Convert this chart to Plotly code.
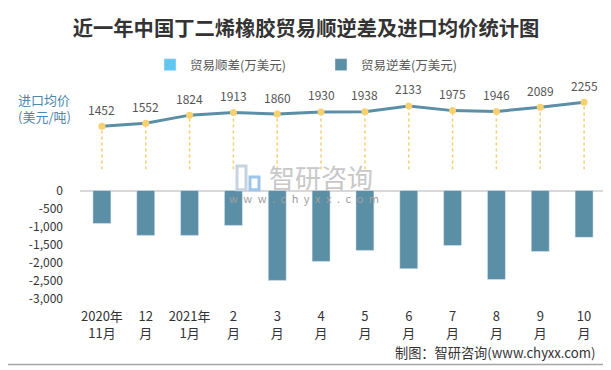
import plotly.graph_objects as go

# ---------------- data ----------------
categories = ["2020年<br>11月", "12<br>月", "2021年<br>1月", "2<br>月", "3<br>月", "4<br>月",
              "5<br>月", "6<br>月", "7<br>月", "8<br>月", "9<br>月", "10<br>月"]
trade_surplus = [None] * 12
trade_deficit = [-910, -1240, -1240, -965, -2485, -1960, -1655, -2160, -1520, -2460, -1685, -1295]
import_price = [1452, 1552, 1824, 1913, 1860, 1930, 1938, 2133, 1975, 1946, 2089, 2255]
bar_tickvals = [0, -500, -1000, -1500, -2000, -2500, -3000]
bar_ticktext = ["0", "-500", "-1,000", "-1,500", "-2,000", "-2,500", "-3,000"]

FONT = "Noto Sans CJK SC"
OFF = 8  # page body margin offset

# plot area in reference pixel coordinates
PL, PR, PT, PB = 80, 606, 95, 299.3
PW, PH = PR - PL, PB - PT


def px(x):
    return (x - PL) / PW


def py(y):
    return (PB - y) / PH


fig = go.Figure()

fig.add_trace(go.Bar(x=categories, y=trade_surplus, name="贸易顺差(万美元)",
                     marker_color="#62C7F0", width=0.41, yaxis="y"))
fig.add_trace(go.Bar(x=categories, y=trade_deficit, name="贸易逆差(万美元)",
                     marker_color="#5B8FA6", width=0.41, yaxis="y"))

# dotted drop lines from price points
dx, dy = [], []
for c, v in zip(categories, import_price):
    dx += [c, c, None]
    dy += [0, v, None]
fig.add_trace(go.Scatter(x=dx, y=dy, mode="lines", yaxis="y2", showlegend=False,
                         line=dict(color="#F5CF72", width=1.5, dash="dot"), hoverinfo="skip"))

fig.add_trace(go.Scatter(x=categories, y=import_price, mode="lines+markers", yaxis="y2",
                         showlegend=False,
                         line=dict(color="#5B8FA6", width=3),
                         marker=dict(color="#F7D06F", size=7)))

for c, v in zip(categories, import_price):
    fig.add_annotation(x=c, y=v, xref="x", yref="y2", text=str(v), showarrow=False,
                       yshift=17, font=dict(size=12, color="#555555", family=FONT))

W, H = 611 - OFF, 370 - OFF
fig.update_layout(
    width=W, height=H,
    margin=dict(l=PL - OFF, r=W - (PR - OFF), t=PT - OFF, b=H - (PB - OFF), autoexpand=False),
    paper_bgcolor="white", plot_bgcolor="white",
    font=dict(family=FONT, color="#333333", size=12),
    title=dict(text="<b>近一年中国丁二烯橡胶贸易顺逆差及进口均价统计图</b>",
               x=(306 - OFF) / W, xanchor="center", xref="container",
               y=1 - (29 - OFF) / H, yanchor="middle", yref="container",
               font=dict(size=20.3, color="#333333", family=FONT)),
    legend=dict(orientation="h", x=px(150), xanchor="left", y=py(65), yanchor="middle",
                font=dict(size=12.5, color="#595959", family=FONT), bgcolor="rgba(0,0,0,0)",
                itemwidth=30, entrywidth=126, entrywidthmode="pixels"),
    barmode="overlay",
    xaxis=dict(type="category", range=[-0.5, len(categories) - 0.5], autorange=False,
               showgrid=False, showline=False, zeroline=False,
               ticks="", tickfont=dict(size=13, color="#333333"), anchor="y",
               ticklabelstandoff=8),
    yaxis=dict(domain=[0, py(190.7)], range=[-3000, 0], tickvals=bar_tickvals, ticktext=bar_ticktext,
               showgrid=False, zeroline=True, zerolinecolor="#D9D9D9", zerolinewidth=1.5,
               showline=False, ticks="", tickfont=dict(size=12, color="#333333"),
               ticklabelstandoff=16),
    yaxis2=dict(domain=[py(169.7), 1], range=[0, (169.7 - PT) / 0.0299], visible=False, anchor="x"),
    showlegend=True,
)

# border of the picture
fig.add_shape(type="rect", xref="paper", yref="paper",
              x0=px(3.5), x1=px(607), y0=py(365), y1=py(3.5),
              line=dict(color="#A6A6A6", width=1.5), layer="below")

# left axis caption for price
fig.add_annotation(text="进口均价<br>(美元/吨)", xref="paper", yref="paper",
                   x=px(16), xanchor="left", y=py(108), yanchor="middle",
                   showarrow=False, align="left",
                   font=dict(size=13, color="#4E86AC", family=FONT))

# watermark
fig.add_annotation(text="智研咨询", xref="paper", yref="paper",
                   x=px(321), y=py(177), xanchor="center", yanchor="middle",
                   showarrow=False, font=dict(size=26, color="#C8C8C8", family=FONT))
fig.add_annotation(text="\u2002".join("www.chyxx.com"), xref="paper", yref="paper",
                   x=px(304), y=py(198), xanchor="center", yanchor="middle",
                   showarrow=False, font=dict(size=11, color="#A0A0A0", family=FONT))
fig.add_shape(type="rect", xref="paper", yref="paper",
              x0=px(237), x1=px(246), y0=py(190), y1=py(166),
              line=dict(color="#C6D3E0", width=3), fillcolor="rgba(0,0,0,0)")
fig.add_shape(type="rect", xref="paper", yref="paper",
              x0=px(250), x1=px(259), y0=py(190), y1=py(177),
              line=dict(color="#9CC7EA", width=3), fillcolor="rgba(0,0,0,0)")

# source
fig.add_annotation(text="制图：智研咨询(www.chyxx.com)", xref="paper", yref="paper",
                   x=px(597), xanchor="right", y=py(353), yanchor="middle",
                   showarrow=False, font=dict(size=13.2, color="#333333", family=FONT))

fig.write_html("out.html")
